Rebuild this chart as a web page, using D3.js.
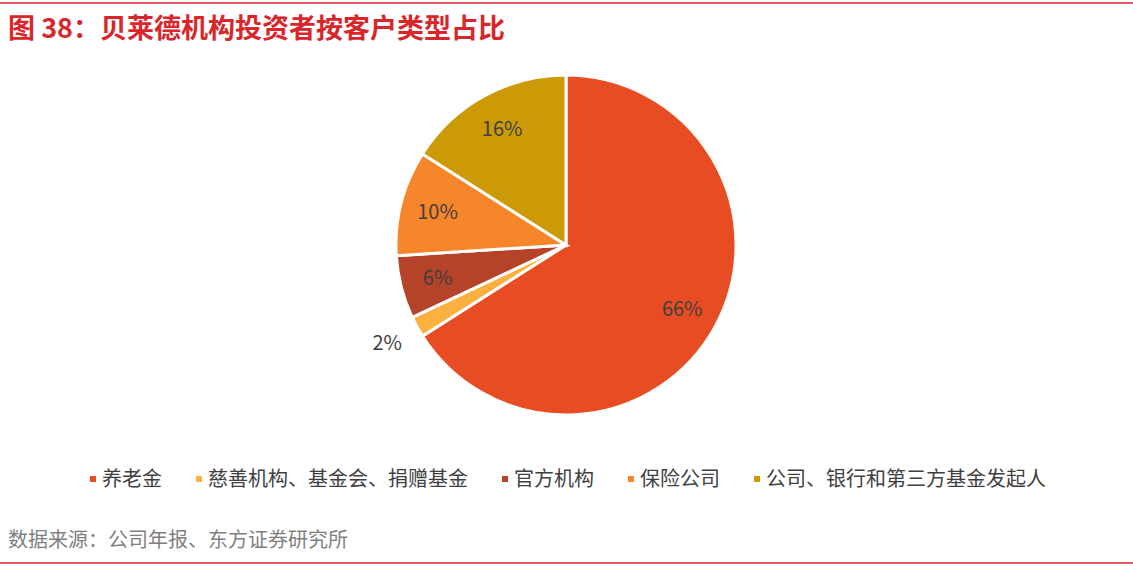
<!DOCTYPE html>
<html><head><meta charset="utf-8">
<script src="https://cdn.jsdelivr.net/npm/d3@7"></script>
<style>
body{margin:0;background:#fff;font-family:"Noto Sans CJK SC","Noto Sans",sans-serif;}
</style></head>
<body><div id="chart"></div>
<script>
const categories = ['养老金', '慈善机构、基金会、捐赠基金', '官方机构', '保险公司', '公司、银行和第三方基金发起人'];
const values = [66, 2, 6, 10, 16];
const colors = ['#E84C22', '#FBB040', '#B5432A', '#F7862B', '#CC9A06'];

const width = 1133, height = 566;
const cx = 566, cy = 245, r = 170;

const svg = d3.select('#chart').append('svg')
  .attr('width', width).attr('height', height);

// top and bottom rules
svg.append('line').attr('x1', 0).attr('x2', width).attr('y1', 3).attr('y2', 3)
  .attr('stroke', '#D9262B').attr('stroke-width', 1.5);
svg.append('line').attr('x1', 0).attr('x2', width).attr('y1', 563).attr('y2', 563)
  .attr('stroke', '#D9262B').attr('stroke-width', 1.5);

svg.append('text').attr('x', 8).attr('y', 38)
  .attr('fill', '#D9262B').attr('font-size', 27).attr('font-weight', 'bold')
  .text('图 38：贝莱德机构投资者按客户类型占比');

const pie = d3.pie().sort(null).value(d => d);
const arcs = pie(values);
const arc = d3.arc().innerRadius(0).outerRadius(r);
const labelArc = d3.arc().innerRadius(r * 0.78).outerRadius(r * 0.78);
const outArc = d3.arc().innerRadius(r * 1.2).outerRadius(r * 1.2);

const g = svg.append('g').attr('transform', `translate(${cx},${cy})`);
g.selectAll('path').data(arcs).enter().append('path')
  .attr('d', arc).attr('fill', (d, i) => colors[i])
  .attr('stroke', '#fff').attr('stroke-width', 3);

g.selectAll('text.lbl').data(arcs).enter().append('text')
  .attr('class', 'lbl')
  .attr('transform', d => `translate(${(d.data < 5 ? outArc : labelArc).centroid(d)})`)
  .attr('text-anchor', 'middle').attr('dy', '0.35em')
  .attr('font-size', 20).attr('fill', '#404040')
  .text(d => d.data + '%');

// legend
let x = 90;
const lg = svg.append('g');
categories.forEach((c, i) => {
  const item = lg.append('g').attr('transform', `translate(${x},479)`);
  item.append('rect').attr('x', 0).attr('y', -3).attr('width', 6).attr('height', 6).attr('fill', colors[i]);
  const t = item.append('text').attr('x', 12).attr('dy', '0.35em')
    .attr('font-size', 20).attr('fill', '#404040').text(c);
  x += 12 + t.node().getComputedTextLength() + 34;
});

svg.append('text').attr('x', 8).attr('y', 547)
  .attr('font-size', 20).attr('fill', '#7f7f7f')
  .text('数据来源：公司年报、东方证券研究所');
</script></body></html>
